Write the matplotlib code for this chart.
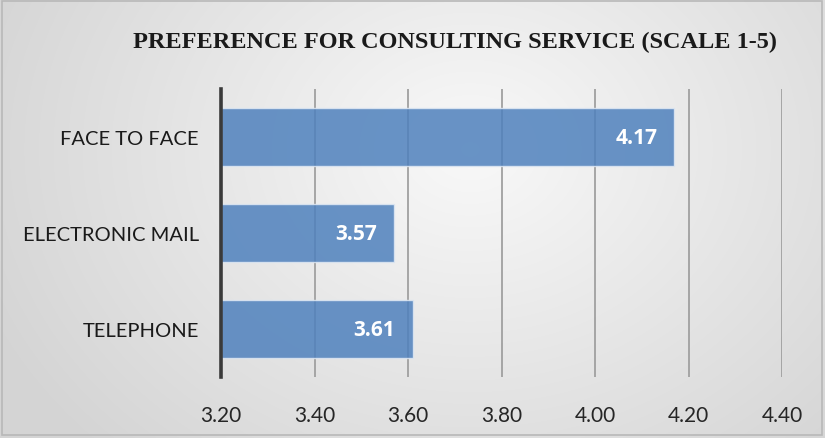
import numpy as np
import matplotlib
matplotlib.use('Agg')
import matplotlib.pyplot as plt
from matplotlib.patches import Rectangle

# data
categories = ['TELEPHONE', 'ELECTRONIC MAIL', 'FACE TO FACE']
values = [3.61, 3.57, 4.17]
ticks = [3.20, 3.40, 3.60, 3.80, 4.00, 4.20, 4.40]

W, H = 825, 439
fig = plt.figure(figsize=(W / 100, H / 100), dpi=100)

# background with soft radial gradient
bg = fig.add_axes([0, 0, 1, 1])
yy, xx = np.mgrid[0:H, 0:W]
r = np.sqrt(((xx - 470) / 520.0) ** 2 + ((yy - 150) / 420.0) ** 2)
r = np.clip(r, 0, 1)
shade = 0.975 - 0.14 * r
bg.imshow(np.dstack([shade, shade, shade]), extent=[0, W, H, 0], aspect='auto')
bg.add_patch(Rectangle((2, 2), W - 5, H - 5, fill=False, edgecolor='#b8b8b8', lw=1.2))
bg.set_xlim(0, W)
bg.set_ylim(H, 0)
bg.axis('off')

ax = fig.add_axes([221 / W, 1 - 378 / H, (782 - 221) / W, (378 - 90) / H])
ax.patch.set_alpha(0)
y = np.arange(len(categories))
bars = ax.barh(y, [v - 3.2 for v in values], left=3.2, height=0.6,
               color='#4f81bd', alpha=0.85, edgecolor='#dfe8f3', linewidth=1.0, zorder=3)

for yi, v in zip(y, values):
    ax.text(v - 0.037, yi, f'{v:.2f}', ha='right', va='center', color='white',
            fontsize=15, fontweight='bold', family='Open Sans', zorder=4)

ax.set_xlim(3.2, 4.4)
ax.set_ylim(-0.5, 2.5)
ax.set_xticks(ticks)
ax.set_xticklabels([f'{t:.2f}' for t in ticks], family='Lato', fontsize=15, color='#262626')
ax.set_yticks(y)
ax.set_yticklabels(categories, family='Lato', fontsize=14.5, color='#1a1a1a')
ax.tick_params(axis='x', length=0, pad=20)
ax.tick_params(axis='y', length=0, pad=16)
ax.grid(axis='x', color='#a0a0a0', linewidth=1.3, zorder=1)
for s in ['top', 'right', 'bottom']:
    ax.spines[s].set_visible(False)
ax.spines['left'].set_color('#3a3a3a')
ax.spines['left'].set_linewidth(2.6)
ax.spines['left'].set_zorder(5)

fig.text(455 / W, 1 - 42 / H, 'PREFERENCE FOR CONSULTING SERVICE (SCALE 1-5)',
         ha='center', va='center', family='Liberation Serif', fontweight='bold',
         fontsize=17.5, color='#1a1a1a')

fig.savefig('out.png', dpi=100)
